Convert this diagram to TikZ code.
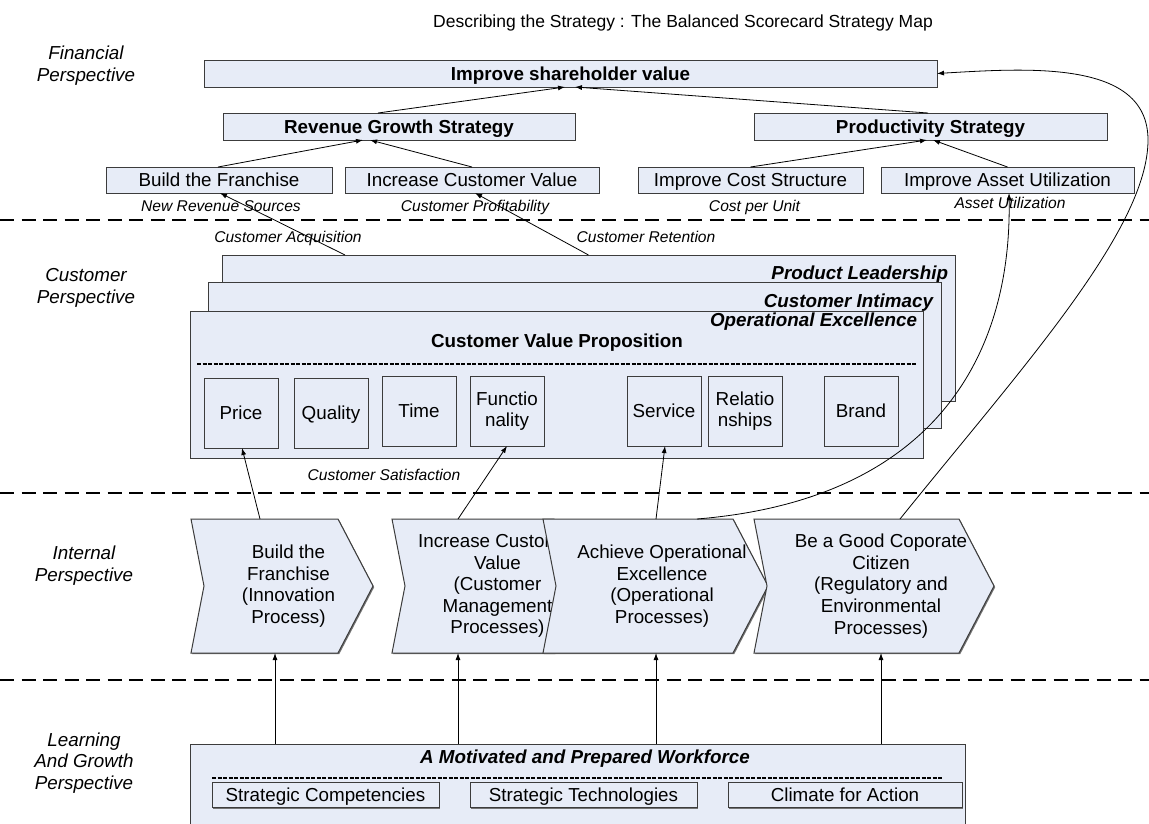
\documentclass[tikz,border=0pt]{standalone}
\usepackage{fontspec}
\setmainfont{Liberation Sans}
\usetikzlibrary{arrows.meta,shadows,calc}
\definecolor{boxfill}{RGB}{231,236,247}
\definecolor{boxline}{RGB}{60,60,60}
\begin{document}
\begin{tikzpicture}[x=1pt,y=-1pt,
  every node/.style={inner sep=0pt,outer sep=0pt},
  fs/.style={font=\fontsize{18.8}{21.6}\selectfont},
  shad/.style={drop shadow={shadow xshift=1.2pt,shadow yshift=-1.2pt,fill=black!55,opacity=1}},
  boxbase/.style={draw=boxline,fill=boxfill,line width=1pt,fs,shad},
  box/.style={boxbase,text height=13.5pt,text depth=0pt},
  mbox/.style={boxbase,align=center},
  bbox/.style={box,font=\fontsize{18.8}{21.6}\selectfont\bfseries},
  lab/.style={font=\fontsize{15.6}{18}\selectfont\itshape,text height=11.2pt,text depth=0pt},
  persp/.style={font=\fontsize{18.8}{21.6}\selectfont\itshape,align=center},
  bit/.style={font=\fontsize{18.8}{21.6}\selectfont\bfseries\itshape,text height=13.5pt,text depth=0pt},
  arr/.style={draw=black,line width=0.8pt,-{Latex[length=7pt,width=5pt]}},
  sep/.style={draw=black,line width=2.5pt,dash pattern=on 14pt off 7.5pt},
  inner dash/.style={draw=black,line width=2pt,dash pattern=on 4pt off 1.5pt},
  chevfill/.style={draw=boxline,fill=boxfill,line width=1pt,shad},
  chevtext/.style={fs,align=center}
]
\useasboundingbox (0,0) rectangle (1149,823);
\fill[white] (0,0) rectangle (1149,823);

% title
\node[font=\fontsize{17.5}{20}\selectfont,text height=12.5pt,text depth=0pt] (title) at (683,21) {Describing the Strategy : The Balanced Scorecard Strategy Map};

% perspective labels
\node[persp] (pfin) at (86,65.5) {Financial\\Perspective};
\node[persp] (pcus) at (86,288) {Customer\\Perspective};
\node[persp] (pint) at (84,565.5) {Internal\\Perspective};
\node[persp] (plg) at (84,763) {Learning\\And Growth\\Perspective};

% separators
\draw[sep] (0,220) -- (1149,220);
\draw[sep] (0,493) -- (1149,493);
\draw[sep] (0,680) -- (1149,680);

% financial
\node[bbox,minimum width=733pt,minimum height=27pt] (sh) at (570.5,73.5) {Improve shareholder value};
\node[bbox,minimum width=352pt,minimum height=27pt] (rev) at (399,126.5) {Revenue Growth Strategy};
\node[bbox,minimum width=353pt,minimum height=27pt] (prod) at (930.5,126.5) {Productivity Strategy};
\node[box,minimum width=226pt,minimum height=26pt] (bf) at (219,180) {Build the Franchise};
\node[box,minimum width=254pt,minimum height=26pt] (icv) at (472,180) {Increase Customer Value};
\node[box,minimum width=225pt,minimum height=26pt] (ics) at (750.5,180) {Improve Cost Structure};
\node[box,minimum width=253pt,minimum height=26pt] (iau) at (1007.5,180) {Improve Asset Utilization};

\node[lab] (nrs) at (221,206) {New Revenue Sources};
\node[lab] (cpr) at (475,206) {Customer Profitability};
\node[lab] (cpu) at (754.5,206) {Cost per Unit};
\node[lab] (aut) at (1010,203) {Asset Utilization};

\draw[arr] ([xshift=-1pt]bf.north) -- ([xshift=-36pt]rev.south);
\draw[arr] (icv.north) -- ([xshift=-29pt]rev.south);
\draw[arr] (ics.north) -- ([xshift=-3.5pt]prod.south);
\draw[arr] (iau.north) -- ([xshift=2.5pt]prod.south);
\draw[arr] ([xshift=-21pt]rev.north) -- ([xshift=-5.5pt]sh.south);
\draw[arr] ([xshift=-2.5pt]prod.north) -- ([xshift=4.5pt]sh.south);

% customer
\node[lab] (cacq) at (288,237) {Customer Acquisition};
\node[lab] (cret) at (646,237) {Customer Retention};
\node[lab] (csat) at (384,475) {Customer Satisfaction};

\node[draw=boxline,fill=boxfill,line width=1pt,shad,minimum width=733pt,minimum height=146pt] (pl) at (588.5,328) {};
\node[bit,anchor=east] (plt) at (948,273) {Product Leadership};
\node[draw=boxline,fill=boxfill,line width=1pt,shad,minimum width=733pt,minimum height=146pt] (ci) at (574.5,355) {};
\node[bit,anchor=east] (cit) at (933,301) {Customer Intimacy};
\node[draw=boxline,fill=boxfill,line width=1pt,shad,minimum width=733pt,minimum height=147pt] (oe) at (556.5,384.5) {};
\node[bit,anchor=east] (oet) at (917,320) {Operational Excellence};
\node[font=\fontsize{18.8}{21.6}\selectfont\bfseries,text height=13.5pt,text depth=0pt] (cvp) at (557,341) {Customer Value Proposition};
\draw[inner dash] ([xshift=7pt]oe.west |- 0,364) -- ([xshift=-6pt]oe.east |- 0,364);

\node[box,minimum width=74pt,minimum height=70pt] (price) at (241,413) {Price};
\node[box,minimum width=74pt,minimum height=70pt] (qual) at (331,413) {Quality};
\node[box,minimum width=74pt,minimum height=70pt] (time) at (419,411) {Time};
\node[mbox,minimum width=74pt,minimum height=70pt] (func) at (507,411) {Functio\\nality};
\node[box,minimum width=74pt,minimum height=70pt] (serv) at (664,411) {Service};
\node[mbox,minimum width=74pt,minimum height=70pt] (rel) at (745,411) {Relatio\\nships};
\node[box,minimum width=74pt,minimum height=70pt] (brand) at (861,411) {Brand};

\draw[arr] ([xshift=-243.5pt]pl.north) -- ([xshift=1pt]bf.south);
\draw[arr] (pl.north) -- ([xshift=3pt]icv.south);

% internal chevrons
\node[minimum width=182pt,minimum height=134pt] (ch1) at (282,586) {};
\path[chevfill] (ch1.north west) -- ([xshift=-35pt]ch1.north east) -- (ch1.east) -- ([xshift=-35pt]ch1.south east) -- (ch1.south west) -- ([xshift=13pt]ch1.west) -- cycle;
\node[chevtext] (ch1t) at (288.5,586) {Build the\\Franchise\\(Innovation\\Process)};

\node[minimum width=197pt,minimum height=134pt] (ch2) at (490.5,586) {};
\path[chevfill] (ch2.north west) -- ([xshift=-35pt]ch2.north east) -- (ch2.east) -- ([xshift=-35pt]ch2.south east) -- (ch2.south west) -- ([xshift=13pt]ch2.west) -- cycle;
\node[chevtext] (ch2t) at (497.5,586) {Increase Customer\\Value\\(Customer\\Management\\Processes)};

\node[minimum width=225pt,minimum height=134pt] (ch3) at (655.5,586) {};
\path[chevfill] (ch3.north west) -- ([xshift=-35pt]ch3.north east) -- (ch3.east) -- ([xshift=-35pt]ch3.south east) -- (ch3.south west) -- ([xshift=13pt]ch3.west) -- cycle;
\node[chevtext] (ch3t) at (662,586) {Achieve Operational\\Excellence\\(Operational\\Processes)};

\node[minimum width=240pt,minimum height=134pt] (ch4) at (874,586) {};
\path[chevfill] (ch4.north west) -- ([xshift=-35pt]ch4.north east) -- (ch4.east) -- ([xshift=-35pt]ch4.south east) -- (ch4.south west) -- ([xshift=13pt]ch4.west) -- cycle;
\node[chevtext] (ch4t) at (881,586) {Be a Good Coporate\\Citizen\\(Regulatory and\\Environmental\\Processes)};

\draw[arr] ([xshift=-22pt]ch1.north) -- ([xshift=1pt]price.south);
\draw[arr] ([xshift=-32.5pt]ch2.north) -- (func.south);
\draw[arr] ([xshift=0.5pt]ch3.north) -- ([xshift=1pt]serv.south);

% learning & growth
\node[draw=boxline,fill=boxfill,line width=1pt,minimum width=775pt,minimum height=100pt,anchor=north west] (wf) at (190,744) {};
\node[bit] (wft) at (585,757) {A Motivated and Prepared Workforce};
\draw[inner dash] (212,778) -- (943,778);
\node[box,minimum width=227pt,minimum height=25pt] (sc) at (325.5,795) {Strategic Competencies};
\node[box,minimum width=227pt,minimum height=25pt] (st) at (583.5,795) {Strategic Technologies};
\node[box,minimum width=234pt,minimum height=25pt] (cfa) at (845,795) {Climate for Action};

\draw[arr] ([xshift=-7pt]ch1.south |- wf.north) -- ([xshift=-7pt]ch1.south);
\draw[arr] ([xshift=-32.5pt]ch2.south |- wf.north) -- ([xshift=-32.5pt]ch2.south);
\draw[arr] ([xshift=0.5pt]ch3.south |- wf.north) -- ([xshift=0.5pt]ch3.south);
\draw[arr] ([xshift=7pt]ch4.south |- wf.north) -- ([xshift=7pt]ch4.south);

% long curved connectors
\draw[arr] ([xshift=41.5pt]ch3.north) .. controls (930,500) and (1012,360) .. ([xshift=1.5pt]iau.south);
\draw[arr] ([xshift=26pt]ch4.north) .. controls (1020,370) and (1148,230) .. (1148,140) .. controls (1148,60) and (1030,68) .. (sh.east);
\end{tikzpicture}
\end{document}
